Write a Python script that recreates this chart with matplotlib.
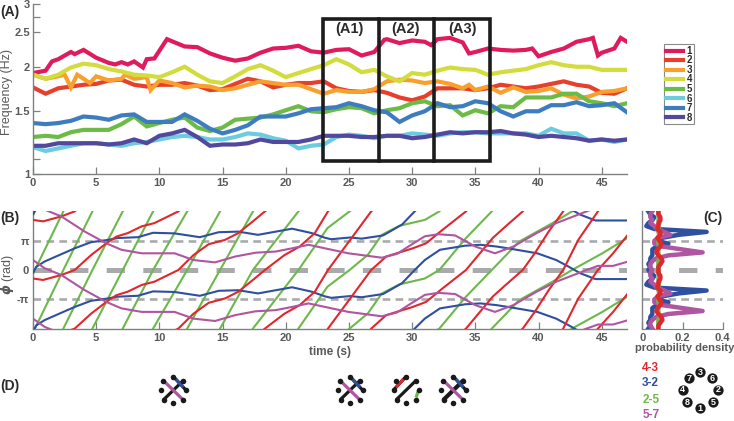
import matplotlib
matplotlib.use("Agg")
import matplotlib.pyplot as plt
from matplotlib.patches import Rectangle
import numpy as np

W, H = 734, 421
plt.rcParams['font.family'] = ['Liberation Sans', 'DejaVu Sans']
plt.rcParams['font.weight'] = 'bold'
plt.rcParams['mathtext.default'] = 'it'

GRAY = '#58595b'
DARK = '#2b2b2d'
AXC = '#7f8082'

# ---------- panel A data: frequency (Hz) ----------
t_a = list(range(48))
t_f1 = [0, 1, 1.5, 2, 3, 3.3, 4, 5, 6, 6.5, 7, 7.5, 8, 8.7, 9, 9.6, 10.6, 12, 13, 14, 15, 16, 17, 18, 19, 20, 21,
        22, 23, 24, 25, 26, 27, 27.8, 28, 29, 30, 31, 31.5, 32, 33, 34, 34.5, 35, 36, 37, 38, 39, 39.5, 40, 41,
        42, 43, 44, 44.3, 44.7, 45, 46, 46.5, 47]
f1 = [1.92, 1.95, 2.07, 2.1, 2.2, 2.17, 2.23, 2.12, 2.05, 2.03, 2.06, 2.03, 2.07, 1.99, 2.1, 2.11, 2.39, 2.28, 2.27,
      2.18, 2.12, 2.08, 2.11, 2.19, 2.25, 2.26, 2.29, 2.21, 2.19, 2.23, 2.24, 2.15, 2.2, 2.38, 2.39, 2.33, 2.37,
      2.35, 2.3, 2.39, 2.41, 2.34, 2.18, 2.2, 2.25, 2.23, 2.22, 2.23, 2.25, 2.14, 2.2, 2.25, 2.35, 2.39, 2.41,
      2.15, 2.19, 2.25, 2.41, 2.35]
f2 = [1.75, 1.68, 1.74, 1.76, 1.78, 1.79, 1.83, 1.84, 1.78, 1.76, 1.78, 1.78, 1.8, 1.77, 1.72, 1.73, 1.79, 1.85, 1.82,
      1.75, 1.78, 1.8, 1.8, 1.82, 1.74, 1.71, 1.7, 1.72, 1.69, 1.64, 1.61, 1.65, 1.74, 1.74, 1.74, 1.72, 1.74, 1.78,
      1.76, 1.74, 1.76, 1.79, 1.82, 1.78, 1.76, 1.69, 1.68, 1.74]
t_f3 = [0, 1, 2, 2.5, 3, 3.5, 4, 4.5, 5, 6, 7, 7.3, 8, 9, 9.3, 10, 11, 12, 13, 14, 15, 16, 17, 18, 19, 20, 21, 22, 23,
        24, 25, 26, 27, 28, 29, 30, 31, 32, 33, 34, 34.5, 35, 36, 37, 38, 39, 40, 41, 42, 43, 44, 45, 46, 47]
f3 = [1.9, 1.85, 1.88, 1.9, 1.75, 1.9, 1.85, 1.8, 1.88, 1.83, 1.85, 1.9, 1.85, 1.87, 1.72, 1.83, 1.8, 1.75, 1.77,
      1.76, 1.72, 1.74, 1.78, 1.82, 1.8, 1.78, 1.78, 1.73, 1.68, 1.72, 1.7, 1.7, 1.73, 1.82, 1.84, 1.83, 1.8, 1.82,
      1.79, 1.74, 1.78, 1.72, 1.76, 1.69, 1.75, 1.7, 1.71, 1.74, 1.67, 1.63, 1.65, 1.7, 1.71, 1.74]
f4 = [1.9, 1.85, 1.9, 1.99, 2.04, 2.02, 1.97, 1.94, 1.9, 1.89, 1.87, 1.93, 2.0, 1.9, 1.82, 1.8, 1.88, 1.97, 2.02, 1.95,
      1.87, 1.92, 1.97, 2.02, 2.1, 2.03, 1.93, 1.96, 1.88, 1.82, 1.92, 1.9, 1.95, 1.99, 1.97, 1.96, 1.9, 1.93, 1.95,
      1.97, 2.02, 2.06, 2.02, 2.0, 2.0, 1.96, 1.96, 1.96]
f5 = [1.27, 1.28, 1.27, 1.31, 1.33, 1.33, 1.33, 1.38, 1.45, 1.36, 1.39, 1.42, 1.44, 1.35, 1.32, 1.35, 1.42, 1.43, 1.44,
      1.47, 1.51, 1.55, 1.5, 1.49, 1.52, 1.54, 1.53, 1.48, 1.51, 1.53, 1.58, 1.6, 1.55, 1.56, 1.46, 1.51, 1.48, 1.55,
      1.54, 1.64, 1.64, 1.64, 1.68, 1.68, 1.6, 1.58, 1.55, 1.58]
f6 = [1.19, 1.16, 1.18, 1.2, 1.22, 1.22, 1.21, 1.2, 1.22, 1.23, 1.25, 1.27, 1.28, 1.27, 1.25, 1.25, 1.27, 1.3, 1.29,
      1.26, 1.24, 1.18, 1.2, 1.21, 1.27, 1.29, 1.28, 1.26, 1.28, 1.28, 1.3, 1.29, 1.28, 1.3, 1.31, 1.31, 1.3, 1.3,
      1.3, 1.3, 1.28, 1.34, 1.3, 1.3, 1.24, 1.25, 1.23, 1.25]
f7 = [1.39, 1.38, 1.39, 1.41, 1.45, 1.44, 1.42, 1.46, 1.47, 1.4, 1.4, 1.4, 1.47, 1.41, 1.34, 1.3, 1.33, 1.37, 1.45,
      1.45, 1.45, 1.48, 1.52, 1.53, 1.54, 1.58, 1.55, 1.51, 1.49, 1.4, 1.46, 1.5, 1.58, 1.54, 1.55, 1.6, 1.58, 1.5,
      1.45, 1.5, 1.5, 1.56, 1.56, 1.59, 1.55, 1.56, 1.58, 1.49]
f8 = [1.2, 1.2, 1.22, 1.22, 1.22, 1.22, 1.21, 1.22, 1.25, 1.22, 1.28, 1.3, 1.33, 1.27, 1.2, 1.21, 1.21, 1.22, 1.25,
      1.23, 1.23, 1.23, 1.25, 1.28, 1.28, 1.28, 1.27, 1.27, 1.28, 1.28, 1.26, 1.27, 1.29, 1.31, 1.3, 1.31, 1.31, 1.32,
      1.3, 1.29, 1.27, 1.28, 1.27, 1.26, 1.24, 1.25, 1.24, 1.25]

colors_a = ['#e01b5d', '#e6402c', '#f8a02e', '#d2dc3c', '#6dbb47', '#6dcbe0', '#3d7cc0', '#52489d']
names_a = ['1', '2', '3', '4', '5', '6', '7', '8']

# ---------- panel B data: unwrapped phase difference, units of pi ----------
t_red = [0, 0.8, 2.24, 3.3, 4.6, 5.8, 6.6, 7.5, 8.6, 9.6, 11.5, 12.7, 13.9, 15.2, 16.25, 17.4, 18.35, 19.9, 21.1, 22.3,
         23.34, 25.05, 26.76, 27.95, 30.05, 31.1, 32.4, 34.26, 36.37, 37.4, 38.75, 39.7, 40.8, 41.95, 43.15, 44.7,
         45.9, 47.1]
phi_red = [-0.29, -0.34, -0.17, 0, 0.51, 0.91, 1.14, 1.26, 1.49, 1.6, 2.0, 2.51, 2.88, 3.03, 3.26, 3.66, 4, 4.51, 4.8,
           5.26, 6, 7, 8, 8.46, 8.74, 8.91, 9.37, 10, 11.09, 11.49, 12, 12.57, 13.31, 14, 15.03, 16, 16.57, 17.22]
t_blue = [0, 0.26, 0.92, 2.24, 3.3, 4.6, 5.8, 6.7, 8.3, 9.5, 11.2, 13.2, 14.7, 16.25, 17.8, 20.5, 22.05, 23.1, 23.6,
          25.1, 26, 27.7, 29.2, 30.2, 31, 32.2, 34.2, 35.4, 36.7, 38, 39.9, 41.4, 42.4, 43.3, 44.5, 47.1]
phi_blue = [-0.1, 0.11, 0.29, 0.54, 0.74, 0.95, 1.02, 1.09, 1.12, 1.27, 1.25, 1.12, 1.29, 1.31, 1.2, 1.41, 1.26, 1.1,
            1.05, 1.11, 1.07, 1.18, 1.55, 2.0, 2.34, 2.69, 2.83, 2.86, 2.8, 2.71, 2.57, 2.34, 2.11, 1.89, 1.69, 1.69]
t_green = [0, 0.15, 2.4, 4.7, 7.1, 9.5, 12.2, 14.8, 17.4, 21, 23.3, 25.05, 26.5, 27.6, 29, 31, 32.15, 34.26, 36.3,
           38.47, 41.1, 42.65, 45.05, 47.03]
phi_green = [-0.13, 0, 2, 4, 6, 8, 10, 12, 14, 16, 17.43, 18, 18.52, 19.2, 19.51, 19.71, 20, 21.09, 22, 22.97, 23.6,
             24, 24.57, 25.09]
t_purple = [0, 0.92, 2.24, 4.1, 5.8, 7, 8.6, 10.15, 11.2, 12.7, 14.4, 16, 17.6, 19.2, 20.5, 21.8, 23.1, 24.95, 27.6,
            28.8, 29.7, 31, 32.05, 33.4, 35, 36.55, 38, 39.85, 41.4, 43.8, 44.7, 45.9, 47.1]
phi_purple = [0.34, 0.06, -0.17, -0.69, -1.09, -1.31, -1.43, -1.43, -1.43, -1.66, -1.74, -1.54, -1.41, -1.37, -1.26,
              -1.14, -1.26, -1.43, -1.58, -1.45, -1.2, -0.85, -0.78, -0.82, -1.2, -1.43, -1.2, -0.74, -0.4, 0, 0.14,
              0.14, 0.29]

# ---------- panel C data: density over one period, phase from 2 pi down to 0.1 pi ----------
phi_c = [2.0, 1.9, 1.8, 1.7, 1.6, 1.5, 1.4, 1.3, 1.2, 1.1, 1.0, 0.9, 0.8, 0.7, 0.6, 0.5, 0.4, 0.3, 0.2, 0.1]
dens_blue = [.03, .04, .06, .05, .03, .02, .06, .32, .18, .10, .07, .13, .07, .05, .05, .05, .04, .04, .03, .04]
dens_purple = [.05, .04, .04, .05, .04, .06, .07, .11, .14, .08, .06, .06, .10, .20, .30, .13, .07, .05, .04, .04]
dens_green = [.08, .08, .085, .08, .085, .08, .08, .08, .085, .08, .08, .08, .085, .08, .08, .08, .085, .08, .08, .08]
dens_red = [.08, .08, .09, .09, .08, .08, .075, .09, .09, .075, .085, .095, .09, .075, .07, .08, .095, .10, .09, .08]

pair_names = ['4-3', '3-2', '2-5', '5-7']
pair_colors = ['#e0272d', '#2f4f9f', '#6db84c', '#b0559f']

# node diagram
node_labels = ['7', '3', '6', '2', '5', '1', '8', '4']
node_x = [689.3, 700, 712.3, 718.3, 713.3, 700, 687.3, 682.7]
node_y = [378.3, 372.3, 378.3, 390, 402.3, 408.3, 402.3, 390]
motif_x = [173.3, 350, 406, 453.3]


def px_rect(l, t, r, b):
    return [l / W, 1 - b / H, (r - l) / W, (b - t) / H]


def style_ax(ax):
    for s in ['top', 'right']:
        ax.spines[s].set_visible(False)
    for s in ['left', 'bottom']:
        ax.spines[s].set_color(AXC)
        ax.spines[s].set_linewidth(1.0)
    ax.tick_params(which='both', direction='in', color=AXC, labelcolor=GRAY, labelsize=8, width=0.9, length=5, pad=3)
    ax.patch.set_alpha(0)


def gray_guides(ax, xmax):
    ax.plot([0, xmax], [np.pi, np.pi], color='#a9aaac', lw=1.9, ls=(0, (2.9, 2.0)), zorder=1)
    ax.plot([0, xmax], [-np.pi, -np.pi], color='#a9aaac', lw=1.9, ls=(0, (2.9, 2.0)), zorder=1)
    ax.plot([0, xmax], [0, 0], color='#a9aaac', lw=3.6, ls=(0, (3.66, 3.66)), zorder=1)


fig = plt.figure(figsize=(W / 100, H / 100), dpi=100)

# ---------- (A) ----------
ax_a = fig.add_axes(px_rect(33, 4, 627, 174))
style_ax(ax_a)
series_a = [(t_f1, f1), (t_a, f2), (t_f3, f3), (t_a, f4), (t_a, f5), (t_a, f6), (t_a, f7), (t_a, f8)]
for (tt, ff), c, n in zip(series_a, colors_a, names_a):
    ax_a.plot(tt, ff, color=c, lw=3.0, label=n, solid_joinstyle='miter')
ax_a.set_yscale('log')
ax_a.set_xlim(0, 47)
ax_a.set_ylim(1, 3)
ax_a.set_xticks(range(0, 46, 5))
ax_a.set_yticks([1, 1.5, 2, 2.5, 3])
ax_a.set_yticklabels(['1', '1.5', '2', '2.5', '3'])
ax_a.set_yticks([1.1, 2.75], minor=True)
ax_a.set_yticklabels([], minor=True)
ax_a.tick_params(which='minor', length=5)
ax_a.tick_params(axis='y', pad=2)
ax_a.set_ylabel('Frequency (Hz)', fontsize=9, color=GRAY, weight='normal', labelpad=0)
ax_a.yaxis.set_label_coords(-0.034, 0.48)

ax_a.add_patch(Rectangle((22.94, 1.088), 36.16 - 22.94, 2.72 - 1.088, fill=False, ec='#1c1c1e', lw=2.6, zorder=6,
                         clip_on=False))
for xd in [27.37, 31.72]:
    ax_a.plot([xd, xd], [1.088, 2.72], color='#1c1c1e', lw=2.6, zorder=6)

leg = ax_a.legend(loc='upper left', bbox_to_anchor=(663.7 / W, 1 - 44 / H), bbox_transform=fig.transFigure,
                  fontsize=7, frameon=True, fancybox=False, edgecolor='#8a8a8a', framealpha=1, handlelength=1.75,
                  handletextpad=0.4, labelspacing=-0.05, borderpad=0.2, borderaxespad=0, labelcolor=DARK)
leg.get_frame().set_linewidth(0.8)

# ---------- (B) ----------
ax_b = fig.add_axes(px_rect(33, 211.4, 627, 328.6))
style_ax(ax_b)
gray_guides(ax_b, 47)
traces = [(t_green, phi_green, pair_colors[2]), (t_blue, phi_blue, pair_colors[1]),
          (t_red, phi_red, pair_colors[0]), (t_purple, phi_purple, pair_colors[3])]
for tt, pp, c in traces:
    pp = np.array(pp)
    lo = int(np.floor((-2 - pp.max()) / 2)) - 1
    hi = int(np.ceil((2 - pp.min()) / 2)) + 1
    for k in range(lo, hi + 1):
        ax_b.plot(tt, (pp + 2 * k) * np.pi, color=c, lw=1.5, zorder=3)
ax_b.set_xlim(0, 47)
ax_b.set_ylim(-2 * np.pi, 2 * np.pi)
ax_b.set_xticks(range(0, 46, 5))
ax_b.set_yticks([-np.pi, 0, np.pi])
ax_b.set_yticklabels(['-π', '0', 'π'])
ax_b.tick_params(axis='y', length=0)
ax_b.set_ylabel(r'$\phi$ (rad)', fontsize=9, color=GRAY, weight='normal')
ax_b.yaxis.set_label_coords(-0.029, 0.46)
ax_b.set_xlabel('time (s)', fontsize=8.5, color=GRAY, weight='bold', labelpad=2)

# ---------- (C) ----------
ax_c = fig.add_axes(px_rect(642.3, 211.4, 722.7, 328.6))
style_ax(ax_c)
gray_guides(ax_c, 0.4)
phi_full = np.concatenate([np.array(phi_c), np.array(phi_c) - 2, [-2.0]]) * np.pi
for dens, c in [(dens_blue, pair_colors[1]), (dens_purple, pair_colors[3]), (dens_green, pair_colors[2]),
                (dens_red, pair_colors[0])]:
    ax_c.plot(np.concatenate([dens, dens, dens[:1]]), phi_full, color=c, lw=3.2, zorder=3)
ax_c.set_xlim(0, 0.4)
ax_c.set_ylim(-2 * np.pi, 2 * np.pi)
ax_c.set_xticks([0, 0.2, 0.4])
ax_c.set_xticklabels(['0', '0.2', '0.4'])
ax_c.set_yticks([])
ax_c.spines['bottom'].set_linewidth(0.8)
ax_c.set_xlabel('probability density', fontsize=8, color=GRAY, weight='bold', labelpad=1)
ax_c.xaxis.set_label_coords(0.53, -0.12)

# ---------- overlay in pixel coordinates: labels, node ring, motifs ----------
ov = fig.add_axes([0, 0, 1, 1], zorder=10)
ov.set_xlim(0, W)
ov.set_ylim(H, 0)
ov.axis('off')
ov.patch.set_alpha(0)

for txt, x, y in [('(A)', 10, 12), ('(B)', 10, 218), ('(C)', 712.7, 218), ('(D)', 10, 386)]:
    ov.text(x, y, txt, fontsize=10, color=DARK, ha='center', va='center')
for txt, x in [('(A1)', 349), ('(A2)', 406), ('(A3)', 462.7)]:
    ov.text(x, 29, txt, fontsize=10.5, color=DARK, ha='center', va='center')

for name, c, y in zip(pair_names, pair_colors, [367.7, 383, 400, 415]):
    ov.text(650.7, y, name, fontsize=8.5, color=c, ha='center', va='center')

ov.scatter(node_x, node_y, s=55, color='#1a1a1a', zorder=3, linewidths=0)
for lab, x, y in zip(node_labels, node_x, node_y):
    ov.text(x, y, lab, fontsize=6.5, color='white', ha='center', va='center', zorder=4)

# dot offsets of a motif, px from centre, same ring order as the node diagram
dot = {'7': (-10, -9.5), '3': (0, -13.5), '6': (10, -9.5), '2': (12.5, 0), '5': (9.5, 9.5), '1': (0, 12.5),
       '8': (-9.5, 9.5), '4': (-12.5, 0)}


def bar(cx, a, b, color, lw, f0=0.0, f1=1.0):
    xa, ya = dot[a]
    xb, yb = dot[b]
    ov.plot([cx + xa + (xb - xa) * f0, cx + xa + (xb - xa) * f1], [390 + ya + (yb - ya) * f0, 390 + ya + (yb - ya) * f1],
            color=color, lw=lw, solid_capstyle='round' if color == '#1a1a1a' else 'butt', zorder=2)


for i, cx in enumerate(motif_x):
    ov.scatter([cx + d[0] for d in dot.values()], [390 + d[1] for d in dot.values()], s=16, color='#1a1a1a',
               linewidths=0, zorder=3)
    if i == 2:
        bar(cx, '8', '6', '#1a1a1a', 2.3)
        bar(cx, '4', '3', '#1a1a1a', 2.3)
        bar(cx, '4', '3', pair_colors[0], 2.3, 0.2, 0.8)
        bar(cx, '2', '5', pair_colors[2], 2.3, 0.1, 0.8)
    else:
        bar(cx, '8', '6', '#1a1a1a', 3.0 if i == 3 else 2.3)
        bar(cx, '3', '2', '#1a1a1a', 2.3)
        bar(cx, '3', '2', pair_colors[1], 2.3, 0.2, 0.8)
        bar(cx, '5', '7', pair_colors[3], 2.3)

fig.savefig('out.png', dpi=100)
